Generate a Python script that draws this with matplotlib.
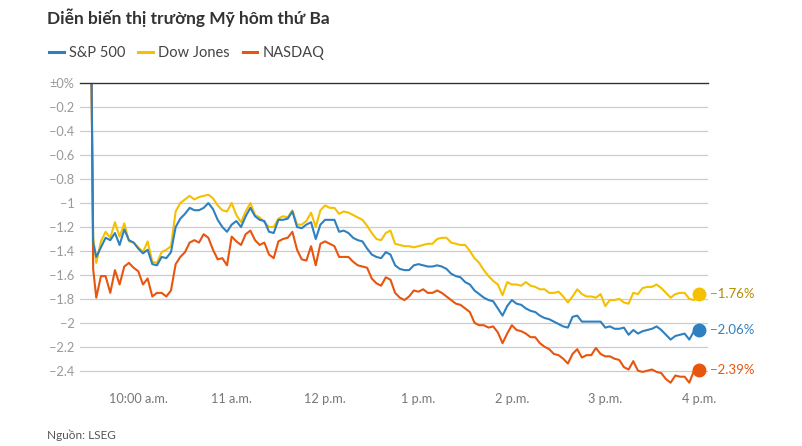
import matplotlib
matplotlib.use("Agg")
import matplotlib.pyplot as plt
from matplotlib.lines import Line2D

plt.rcParams["font.family"] = ["Lato", "DejaVu Sans"]

# minutes after the 9:30 a.m. open
minutes = [
    0, 1, 3, 6, 9, 12, 15, 18, 21, 24, 27, 30, 33, 36, 39, 42, 45, 48, 51, 54,
    57, 60, 63, 66, 69, 72, 75, 78, 81, 84, 87, 90, 93, 96, 99, 102, 105, 108, 111, 114,
    117, 120, 123, 126, 129, 132, 135, 138, 141, 144, 147, 150, 153, 156, 159, 162, 165, 168, 171, 174,
    177, 180, 183, 186, 189, 192, 195, 198, 201, 204, 207, 210, 213, 216, 219, 222, 225, 228, 231, 234,
    237, 240, 243, 246, 249, 252, 255, 258, 261, 264, 267, 270, 273, 276, 279, 282, 285, 288, 291, 294,
    297, 300, 303, 306, 309, 312, 315, 318, 321, 324, 327, 330, 333, 336, 339, 342, 345, 348, 351, 354,
    357, 360, 363, 366, 369, 372, 375, 378, 381, 384, 387, 390,
]

# % change vs previous close
dow = [
    0.0, -1.28, -1.50, -1.32, -1.24, -1.29, -1.16, -1.28, -1.17, -1.32, -1.33, -1.37, -1.41, -1.32, -1.49, -1.50, -1.41, -1.39, -1.36, -1.07,
    -1.00, -0.97, -0.94, -0.97, -0.95, -0.94, -0.93, -0.96, -1.02, -1.06, -1.07, -1.00, -1.10, -1.16, -1.07, -1.00, -1.10, -1.12, -1.16, -1.20,
    -1.20, -1.13, -1.11, -1.12, -1.06, -1.18, -1.18, -1.15, -1.08, -1.20, -1.06, -1.02, -1.04, -1.04, -1.09, -1.07, -1.08, -1.10, -1.12, -1.14,
    -1.19, -1.25, -1.30, -1.31, -1.25, -1.23, -1.34, -1.35, -1.36, -1.36, -1.37, -1.36, -1.35, -1.34, -1.34, -1.30, -1.29, -1.29, -1.33, -1.34,
    -1.35, -1.35, -1.40, -1.46, -1.50, -1.56, -1.61, -1.65, -1.68, -1.77, -1.66, -1.68, -1.68, -1.69, -1.66, -1.69, -1.70, -1.72, -1.72, -1.75,
    -1.75, -1.74, -1.78, -1.83, -1.78, -1.72, -1.76, -1.78, -1.78, -1.79, -1.76, -1.86, -1.81, -1.81, -1.80, -1.83, -1.84, -1.75, -1.76, -1.71,
    -1.70, -1.70, -1.68, -1.71, -1.75, -1.79, -1.76, -1.75, -1.75, -1.80, -1.81, -1.76,
]

sp500 = [
    0.0, -1.33, -1.45, -1.37, -1.29, -1.31, -1.25, -1.35, -1.22, -1.31, -1.33, -1.38, -1.42, -1.39, -1.51, -1.52, -1.45, -1.46, -1.41, -1.20,
    -1.13, -1.09, -1.04, -1.06, -1.06, -1.04, -1.00, -1.05, -1.14, -1.20, -1.24, -1.18, -1.15, -1.20, -1.11, -1.04, -1.11, -1.14, -1.15, -1.24,
    -1.25, -1.14, -1.14, -1.13, -1.07, -1.20, -1.21, -1.18, -1.16, -1.30, -1.18, -1.14, -1.14, -1.14, -1.24, -1.23, -1.25, -1.29, -1.31, -1.32,
    -1.38, -1.43, -1.45, -1.46, -1.41, -1.43, -1.52, -1.55, -1.56, -1.56, -1.52, -1.51, -1.52, -1.53, -1.53, -1.52, -1.53, -1.55, -1.59, -1.61,
    -1.62, -1.66, -1.68, -1.73, -1.76, -1.79, -1.81, -1.82, -1.88, -1.94, -1.86, -1.81, -1.84, -1.85, -1.88, -1.90, -1.91, -1.94, -1.96, -1.97,
    -1.99, -2.01, -2.03, -2.04, -1.95, -1.94, -1.99, -1.99, -1.99, -1.99, -1.99, -2.04, -2.03, -2.05, -2.05, -2.04, -2.10, -2.06, -2.09, -2.07,
    -2.06, -2.05, -2.03, -2.06, -2.10, -2.14, -2.11, -2.10, -2.09, -2.14, -2.07, -2.06,
]

nasdaq = [
    0.0, -1.55, -1.79, -1.61, -1.61, -1.75, -1.56, -1.68, -1.53, -1.50, -1.54, -1.57, -1.68, -1.63, -1.78, -1.75, -1.75, -1.78, -1.73, -1.51,
    -1.45, -1.41, -1.33, -1.31, -1.33, -1.26, -1.29, -1.39, -1.47, -1.46, -1.52, -1.28, -1.32, -1.35, -1.26, -1.23, -1.31, -1.35, -1.33, -1.43,
    -1.46, -1.32, -1.30, -1.29, -1.24, -1.39, -1.47, -1.48, -1.36, -1.52, -1.34, -1.32, -1.34, -1.36, -1.45, -1.45, -1.45, -1.49, -1.52, -1.53,
    -1.54, -1.63, -1.67, -1.69, -1.62, -1.64, -1.75, -1.79, -1.81, -1.78, -1.73, -1.74, -1.72, -1.75, -1.75, -1.73, -1.75, -1.78, -1.81, -1.84,
    -1.85, -1.88, -1.91, -2.00, -2.02, -2.02, -2.04, -2.03, -2.08, -2.17, -2.09, -2.02, -2.06, -2.07, -2.09, -2.12, -2.12, -2.17, -2.20, -2.22,
    -2.26, -2.27, -2.30, -2.34, -2.26, -2.22, -2.29, -2.27, -2.27, -2.21, -2.26, -2.28, -2.28, -2.30, -2.31, -2.37, -2.39, -2.32, -2.40, -2.41,
    -2.40, -2.39, -2.41, -2.42, -2.47, -2.50, -2.44, -2.45, -2.45, -2.50, -2.40, -2.39,
]

series_names = ["S&P 500", "Dow Jones", "NASDAQ"]
end_labels = ["\u22122.06%", "\u22121.76%", "\u22122.39%"]

tick_minutes = [30, 90, 150, 210, 270, 330, 390]
tick_labels = ["10:00 a.m.", "11 a.m.", "12 p.m.", "1 p.m.", "2 p.m.", "3 p.m.", "4 p.m."]

y_ticks = [0, -0.2, -0.4, -0.6, -0.8, -1.0, -1.2, -1.4, -1.6, -1.8, -2.0, -2.2, -2.4]
y_labels = ["\u00b10%", "\u22120.2", "\u22120.4", "\u22120.6", "\u22120.8", "\u22121",
            "\u22121.2", "\u22121.4", "\u22121.6", "\u22121.8", "\u22122", "\u22122.2", "\u22122.4"]

BLUE = "#2f80c0"
YELLOW = "#f5c000"
ORANGE = "#e8550f"

W, H = 803, 446
fig = plt.figure(figsize=(W / 100, H / 100), dpi=100)
ax = fig.add_axes([80 / W, 1 - 390 / H, 628.3 / W, 306.7 / H])

# grid
for yv in y_ticks[1:]:
    ax.axhline(yv, color="#cccccc", linewidth=0.9, zorder=1)
ax.axhline(0, color="#333333", linewidth=1.0, zorder=5, clip_on=False)

ax.plot(minutes, dow, color=YELLOW, linewidth=1.5, zorder=3)
ax.plot(minutes, nasdaq, color=ORANGE, linewidth=1.5, zorder=3)
ax.plot(minutes, sp500, color=BLUE, linewidth=1.5, zorder=4)

# end markers + value labels
for vals, col, lab, tcol in [
    (dow, YELLOW, end_labels[1], "#b38c00"),
    (sp500, BLUE, end_labels[0], BLUE),
    (nasdaq, ORANGE, end_labels[2], ORANGE),
]:
    ax.plot(minutes[-1], vals[-1], "o", color=col, markersize=9, zorder=6, clip_on=False)
    ax.annotate(lab, (minutes[-1], vals[-1]), xytext=(8, 0), textcoords="offset points",
                ha="left", va="center", color=tcol, fontsize=9.5, annotation_clip=False)

ax.set_xlim(-7.45, 396.2)
ax.set_ylim(-2.561, 0)

ax.set_xticks(tick_minutes)
ax.set_xticklabels(tick_labels, fontsize=9.2, color="#777777")
ax.set_yticks(y_ticks)
ax.set_yticklabels(y_labels, fontsize=9.2, color="#999999")
ax.tick_params(axis="both", length=0)
ax.tick_params(axis="x", pad=2.5)
ax.tick_params(axis="y", pad=4)
for s in ax.spines.values():
    s.set_visible(False)

fig.text(47 / W, 1 - 18 / H, "Diễn biến thị trường Mỹ hôm thứ Ba", fontsize=12.5,
         fontweight="bold", color="#333333", ha="left", va="center")

handles = [Line2D([], [], color=c, linewidth=2.2) for c in (BLUE, YELLOW, ORANGE)]
fig.legend(handles, series_names, loc="center left", bbox_to_anchor=(36 / W, 1 - 53 / H),
           ncol=3, frameon=False, fontsize=10.5, handlelength=1.0, handletextpad=0.35,
           columnspacing=0.9, labelcolor="#444444")

fig.text(47 / W, 1 - 435 / H, "Nguồn: LSEG", fontsize=8.5, color="#555555",
         ha="left", va="center")

fig.savefig("out.png", dpi=100)
